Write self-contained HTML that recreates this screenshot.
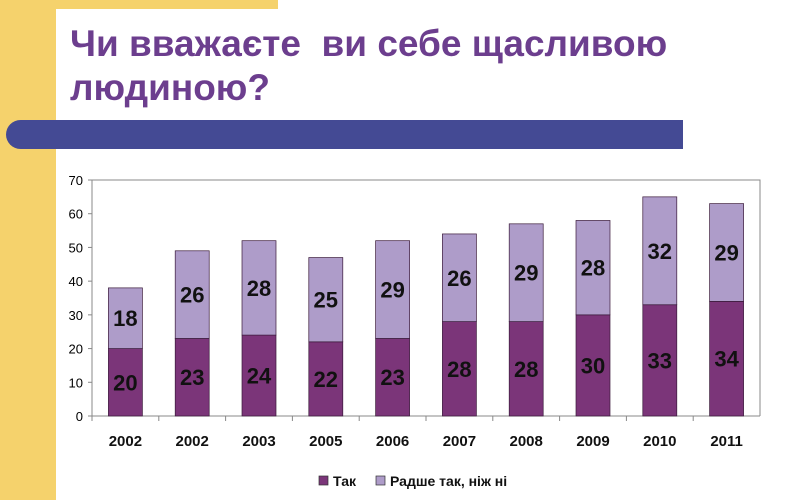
<!DOCTYPE html>
<html><head><meta charset="utf-8"><style>
body{margin:0;width:800px;height:500px;overflow:hidden;background:#fff;font-family:"Liberation Sans",Arial,sans-serif;position:relative}
.abs{position:absolute}
</style></head><body>
<div class="abs" style="left:0;top:0;width:56px;height:500px;background:#F5D26C"></div>
<div class="abs" style="left:0;top:0;width:278px;height:9px;background:#F5D26C"></div>
<div class="abs" style="left:56px;top:9px;width:300px;height:100px;background:#fff;border-top-left-radius:24px"></div>
<div class="abs" style="left:70px;top:22px;font-size:37px;font-weight:bold;color:#6C3E8E;line-height:44px">Чи вважаєте&nbsp; ви себе щасливою<br>людиною?</div>
<div class="abs" style="left:6px;top:120px;width:677px;height:29px;background:#444A94;border-radius:15px 0 0 15px"></div>
<svg class="abs" style="left:0;top:0" width="800" height="500" id="chart"></svg>
<script>
const categories=["2002","2002","2003","2005","2006","2007","2008","2009","2010","2011"];
const seriesYes=[20,23,24,22,23,28,28,30,33,34];
const seriesRather=[18,26,28,25,29,26,29,28,32,29];
const yTicks=[0,10,20,30,40,50,60,70];
const seriesNames=["Так","Радше так, нiж нi"];
const svg=document.getElementById('chart');
const NS='http://www.w3.org/2000/svg';
const X0=92,X1=760,Y0=416,Y1=180,YMAX=70;
const yS=v=>Y0-(v/YMAX)*(Y0-Y1);
const bw=(X1-X0)/categories.length;
const xC=i=>X0+bw*(i+0.5);
function mk(t,a){const e=document.createElementNS(NS,t);for(const k in a)e.setAttribute(k,a[k]);svg.appendChild(e);return e;}
let ax=mk('path',{d:`M${X0} ${Y1}H${X1}V${Y0}M${X0} ${Y1}V${Y0}H${X1}`,stroke:'#888',fill:'none','stroke-width':1});


yTicks.forEach(v=>{
 const t=mk('line',{x1:X0-4,x2:X0,y1:yS(v),y2:yS(v),stroke:'#888'});
 
 
 const l=mk('text',{x:X0-9,y:yS(v)+5,'text-anchor':'end','font-size':13,fill:'#000'});
 l.textContent=v;
 
 
});
categories.forEach((c,i)=>{
 const tx=X0+bw*i;
 const tk=mk('line',{x1:tx,x2:tx,y1:Y0,y2:Y0+5,stroke:'#888'});
 
 
 const w=34,x=xC(i)-w/2;
 const a=seriesYes[i],b=seriesRather[i];
 const r1=mk('rect',{x:x,y:yS(a),width:w,height:yS(0)-yS(a),fill:'#7B3579',stroke:'#3a1a3a','stroke-width':0.7});
 
 
 const r2=mk('rect',{x:x,y:yS(a+b),width:w,height:yS(a)-yS(a+b),fill:'#AE9CC9',stroke:'#3a1a3a','stroke-width':0.7});
 
 
 const l1=mk('text',{x:xC(i),y:(yS(0)+yS(a))/2+8,'text-anchor':'middle','font-size':22,'font-weight':'bold',fill:'#111'});
 l1.textContent=a;
 
 
 const l2=mk('text',{x:xC(i),y:(yS(a)+yS(a+b))/2+8,'text-anchor':'middle','font-size':22,'font-weight':'bold',fill:'#111'});
 l2.textContent=b;
 
 
 const cl=mk('text',{x:xC(i),y:Y0+30,'text-anchor':'middle','font-size':15,'font-weight':'bold',fill:'#111'});
 cl.textContent=c;
 
 
});
const lg=[[319,'#7B3579'],[376,'#AE9CC9']];
lg.forEach(([lx,col],k)=>{
 const s=mk('rect',{x:lx,y:476,width:9,height:9,fill:col,stroke:'#333','stroke-width':0.7});
 
 
 const t=mk('text',{x:lx+14,y:486,'font-size':14,'font-weight':'bold',fill:'#111'});
 t.textContent=seriesNames[k];
 
 
});
</script>
</body></html>
